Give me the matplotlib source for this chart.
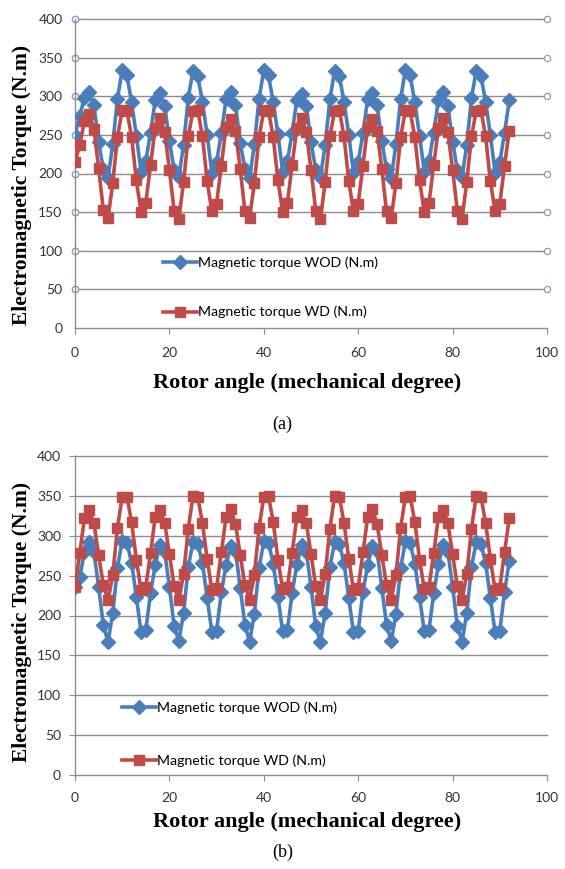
import matplotlib
matplotlib.use("Agg")
import matplotlib.pyplot as plt

angle = list(range(0, 93))

wod_a = [250, 275, 298, 305, 289, 241, 206, 194, 238, 297, 334, 327, 292, 249, 202,
         216, 253, 295, 304, 288, 242, 205, 195, 237, 298, 333, 326, 293, 250, 201,
         215, 252, 296, 305, 289, 240, 206, 194, 238, 297, 334, 327, 292, 251, 202,
         216, 253, 295, 303, 288, 241, 205, 195, 237, 296, 333, 326, 293, 250, 201,
         215, 252, 296, 304, 289, 242, 206, 194, 238, 297, 334, 327, 292, 249, 202,
         216, 253, 295, 305, 288, 241, 205, 195, 237, 298, 333, 326, 293, 250, 201,
         215, 252, 295]
wd_a = [215, 237, 268, 277, 258, 207, 153, 142, 188, 247, 282, 281, 247, 191, 150,
        162, 211, 259, 272, 254, 205, 152, 141, 189, 248, 281, 282, 248, 190, 151,
        161, 210, 260, 271, 255, 206, 151, 142, 188, 247, 282, 281, 247, 191, 150,
        162, 211, 259, 272, 254, 205, 152, 141, 189, 248, 281, 282, 248, 190, 151,
        161, 210, 260, 271, 255, 206, 151, 142, 188, 247, 282, 281, 247, 191, 150,
        162, 211, 259, 272, 254, 205, 152, 141, 189, 248, 281, 282, 248, 190, 151,
        161, 210, 255]

wod_b = [236, 248, 280, 292, 280, 236, 188, 167, 203, 260, 294, 291, 266, 223, 179,
         182, 228, 263, 288, 280, 236, 187, 168, 203, 261, 292, 290, 266, 222, 179,
         181, 229, 263, 287, 281, 235, 188, 167, 202, 260, 293, 291, 265, 223, 180,
         182, 228, 264, 288, 280, 236, 187, 167, 203, 261, 292, 290, 266, 222, 179,
         181, 229, 263, 287, 281, 235, 188, 168, 202, 260, 293, 291, 265, 223, 180,
         182, 228, 264, 288, 280, 236, 187, 167, 203, 261, 292, 290, 266, 222, 179,
         181, 229, 268]
wd_b = [236, 278, 322, 332, 316, 276, 238, 219, 251, 310, 349, 349, 317, 270, 232,
        236, 278, 324, 332, 316, 277, 237, 219, 252, 309, 350, 349, 316, 271, 232,
        235, 279, 323, 333, 315, 276, 238, 220, 251, 310, 349, 350, 317, 270, 233,
        236, 278, 324, 332, 316, 277, 237, 219, 252, 309, 350, 349, 316, 271, 232,
        235, 279, 323, 333, 315, 276, 238, 220, 251, 310, 349, 350, 317, 270, 233,
        236, 278, 324, 332, 316, 277, 237, 219, 252, 309, 350, 349, 316, 271, 232,
        235, 279, 322]

label_wod = "Magnetic torque WOD (N.m)"
label_wd = "Magnetic torque WD (N.m)"
yticks = [0, 50, 100, 150, 200, 250, 300, 350, 400]
xticks = [0, 20, 40, 60, 80, 100]

BLUE = "#4A7EBB"
RED = "#BE4B48"
GRID = "#8c8c8c"

fig = plt.figure(figsize=(5.65, 8.69), dpi=100)

serif = ["Liberation Serif", "DejaVu Serif"]
sans = ["Lato", "DejaVu Sans"]


def make_axes(rect, wod, wd, circles, caption, cap_y, leg_pos, leg_space,
              xpad, xlab_y, ylab_y):
    ax = fig.add_axes(rect)
    ax.set_xlim(0, 100)
    ax.set_ylim(0, 400)
    for y in yticks[1:]:
        if circles:
            ax.plot([0, 100], [y, y], color=GRID, lw=1.0, marker="o", ms=4.5,
                    mfc="white", mec="#7f9fbf", mew=0.9, zorder=1, clip_on=False)
        else:
            ax.plot([0, 100], [y, y], color=GRID, lw=1.0, zorder=1, clip_on=False)
    l1, = ax.plot(angle, wod, color=BLUE, lw=2.6, marker="D", ms=6.8,
                  mfc=BLUE, mec=BLUE, zorder=3, label=label_wod)
    l2, = ax.plot(angle, wd, color=RED, lw=2.6, marker="s", ms=7.5,
                  mfc=RED, mec=RED, zorder=4, label=label_wd)
    for s in ["top", "right"]:
        ax.spines[s].set_visible(False)
    for s in ["left", "bottom"]:
        ax.spines[s].set_color(GRID)
        ax.spines[s].set_linewidth(1.0)
    ax.set_xticks(xticks)
    ax.set_yticks(yticks)
    ax.tick_params(axis="x", direction="out", length=4, color=GRID, pad=xpad,
                   labelsize=10, labelcolor="#333333")
    ax.tick_params(axis="y", direction="out", length=0 if circles else 4,
                   color=GRID, pad=9 if circles else 6,
                   labelsize=10, labelcolor="#333333")
    for t in ax.get_xticklabels() + ax.get_yticklabels():
        t.set_family(sans)
    if circles:
        ax.plot([0] * 8, yticks[1:], ls="none", marker="o", ms=4.5, mfc="white",
                mec="#7f9fbf", mew=0.9, zorder=2, clip_on=False)
    ax.set_xlabel("Rotor angle (mechanical degree)", family=serif,
                  fontweight="bold", fontsize=16)
    ax.xaxis.set_label_coords(0.4926, xlab_y)
    ax.xaxis.label.set_va("center")
    ax.set_ylabel("Electromagnetic Torque (N.m)", family=serif,
                  fontweight="bold", fontsize=15.5)
    ax.yaxis.set_label_coords(-0.112, ylab_y)
    ax.yaxis.label.set_va("center")
    ax.legend(handles=[l1, l2], loc="center left",
              bbox_to_anchor=leg_pos, frameon=False, borderpad=0,
              borderaxespad=0,
              prop={"family": sans, "size": 10.2}, labelspacing=leg_space,
              handlelength=2.4, handletextpad=0.1)
    fig.text(0.5, cap_y, caption, ha="center", va="center", family=serif,
             fontsize=13)
    return ax


make_axes([75 / 565, (869 - 328) / 869, 472 / 565, 309 / 869], wod_a, wd_a,
          True, "(a)", 1 - 424 / 869, (0.186, 0.131), 2.6, 10, -0.178, 0.463)
make_axes([75 / 565, (869 - 775) / 869, 472 / 565, 319 / 869], wod_b, wd_b,
          False, "(b)", 1 - 852 / 869, (0.0996, 0.127), 2.87, 8, -0.147, 0.48)

fig.savefig("out.png", dpi=100)
